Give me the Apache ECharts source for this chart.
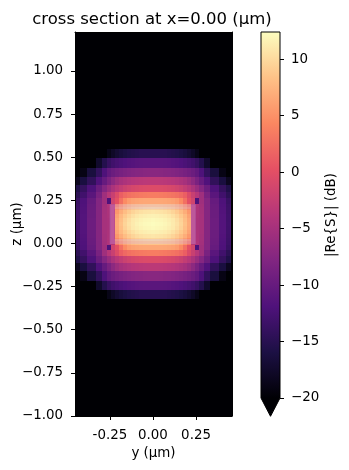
<!DOCTYPE html>
<html>
<head>
<meta charset="utf-8">
<style>
  html, body { margin: 0; padding: 0; background: #fff; }
  #chart { width: 349px; height: 470px; }
</style>
<script src="https://cdn.jsdelivr.net/npm/echarts@6/dist/echarts.min.js"></script>
</head>
<body>
<div id="chart"></div>
<script>
// cell edges of the non uniform grid, um
var yEdges = [ -0.455, -0.426, -0.382, -0.333, -0.295, -0.265, -0.242, -0.221, -0.198, -0.174, -0.151, -0.128, -0.105, -0.081, -0.058, -0.035, -0.012,
               0.012, 0.035, 0.058, 0.081, 0.105, 0.128, 0.151, 0.174, 0.198, 0.221, 0.242, 0.265, 0.295, 0.333, 0.382, 0.426, 0.455 ] ;
var zEdges = [ 0.545, 0.493, 0.439, 0.384, 0.338, 0.2975, 0.2615, 0.23, 0.2125, 0.193, 0.170, 0.146, 0.123,
               0.100, 0.077, 0.054, 0.031, 0.012, -0.006, -0.037, -0.074, -0.114, -0.160, -0.215, -0.269, -0.321 ] ;

// dB, one row per z cell (top to bottom), one column per y cell
var fieldDb = [
  [-25,-25,-25,-25,-25,-18.8,-17.8,-17,-16.4,-16,-15.6,-15.4,-15.2,-15,-15,-15,-15,-15,-15,-15,-15.2,-15.4,-15.6,-16,-16.4,-17,-17.8,-18.8,-25,-25,-25,-25,-25],
  [-25,-25,-25,-17.5,-15.3,-13.9,-13.1,-12.6,-12.2,-11.9,-11.6,-11.4,-11.2,-11.1,-11,-11,-11,-11,-11,-11.1,-11.2,-11.4,-11.6,-11.9,-12.2,-12.6,-13.1,-13.9,-15.3,-17.5,-25,-25,-25],
  [-25,-19,-16.3,-14.2,-12,-10.4,-9.6,-9.1,-8.7,-8.3,-8,-7.8,-7.6,-7.5,-7.4,-7.3,-7.3,-7.3,-7.4,-7.5,-7.6,-7.8,-8,-8.3,-8.7,-9.1,-9.6,-10.4,-12,-14.2,-16.3,-19,-25],
  [-18.3,-16.2,-14.3,-11.8,-10,-8.4,-7,-5.8,-5,-4.5,-4.1,-3.8,-3.6,-3.5,-3.4,-3.3,-3.3,-3.3,-3.4,-3.5,-3.6,-3.8,-4.1,-4.5,-5,-5.8,-7,-8.4,-10,-11.8,-14.3,-16.2,-18.3],
  [-15.6,-14,-12,-9.6,-7.6,-6,-4.6,-3.5,-2.7,-2,-1.5,-1.1,-0.9,-0.7,-0.6,-0.5,-0.5,-0.5,-0.6,-0.7,-0.9,-1.1,-1.5,-2,-2.7,-3.5,-4.6,-6,-7.6,-9.6,-12,-14,-15.6],
  [-14.7,-13,-11,-8.5,-5.5,-3.6,-2.2,-0.5,1.3,2.1,2.6,2.9,3.1,3.3,3.4,3.5,3.5,3.5,3.4,3.3,3.1,2.9,2.6,2.1,1.3,-0.5,-2.2,-3.6,-5.5,-8.5,-11,-13,-14.7],
  [-13.7,-12,-10,-7.7,-5.5,-12,-1.5,0.2,2.6,4.6,5.7,6.1,6.3,6.4,6.5,6.5,6.5,6.5,6.5,6.4,6.3,6.1,5.7,4.6,2.6,0.2,-1.5,-12,-5.5,-7.7,-10,-12,-13.7],
  [-13.4,-11.8,-9.8,-7.7,-5.2,-4.3,-3.5,3.2,5,6.3,7.2,7.8,8.1,8.3,8.4,8.5,8.5,8.5,8.4,8.3,8.1,7.8,7.2,6.3,5,3.2,-3.5,-4.3,-5.2,-7.7,-9.8,-11.8,-13.4],
  [-13.3,-11.7,-9.7,-7.6,-5.1,-4.4,-3.5,4.5,5.9,7.1,8,8.7,9.1,9.4,9.6,9.7,9.8,9.7,9.6,9.4,9.1,8.7,8,7.1,5.9,4.5,-3.5,-4.4,-5.1,-7.6,-9.7,-11.7,-13.3],
  [-13.2,-11.6,-9.6,-7.5,-5.1,-4.5,-3.5,5.5,6.9,8,8.9,9.6,10.1,10.4,10.6,10.7,10.8,10.7,10.6,10.4,10.1,9.6,8.9,8,6.9,5.5,-3.5,-4.5,-5.1,-7.5,-9.6,-11.6,-13.2],
  [-13.1,-11.5,-9.6,-7.5,-5,-4.6,-3.5,6.2,7.7,8.8,9.7,10.4,10.9,11.2,11.4,11.5,11.6,11.5,11.4,11.2,10.9,10.4,9.7,8.8,7.7,6.2,-3.5,-4.6,-5,-7.5,-9.6,-11.5,-13.1],
  [-13.1,-11.5,-9.5,-7.5,-5,-4.7,-3.5,6.6,8.1,9.4,10.3,11,11.4,11.7,11.9,12,12.1,12,11.9,11.7,11.4,11,10.3,9.4,8.1,6.6,-3.5,-4.7,-5,-7.5,-9.5,-11.5,-13.1],
  [-13,-11.5,-9.5,-7.5,-5,-4.7,-3.5,6.8,8.3,9.6,10.5,11.1,11.6,11.9,12.1,12.2,12.3,12.2,12.1,11.9,11.6,11.1,10.5,9.6,8.3,6.8,-3.5,-4.7,-5,-7.5,-9.5,-11.5,-13],
  [-13.1,-11.5,-9.5,-7.5,-5,-4.7,-3.5,6.6,8.1,9.4,10.3,11,11.4,11.7,11.9,12,12.1,12,11.9,11.7,11.4,11,10.3,9.4,8.1,6.6,-3.5,-4.7,-5,-7.5,-9.5,-11.5,-13.1],
  [-13.1,-11.5,-9.6,-7.5,-5,-4.6,-3.5,6.2,7.7,8.8,9.7,10.4,10.9,11.2,11.4,11.5,11.6,11.5,11.4,11.2,10.9,10.4,9.7,8.8,7.7,6.2,-3.5,-4.6,-5,-7.5,-9.6,-11.5,-13.1],
  [-13.2,-11.6,-9.6,-7.5,-5.1,-4.5,-3.5,5.5,6.9,8,8.9,9.6,10.1,10.4,10.6,10.7,10.8,10.7,10.6,10.4,10.1,9.6,8.9,8,6.9,5.5,-3.5,-4.5,-5.1,-7.5,-9.6,-11.6,-13.2],
  [-13.3,-11.7,-9.7,-7.6,-5.1,-4.4,-3.5,4.5,5.9,7.1,8,8.7,9.1,9.4,9.6,9.7,9.8,9.7,9.6,9.4,9.1,8.7,8,7.1,5.9,4.5,-3.5,-4.4,-5.1,-7.6,-9.7,-11.7,-13.3],
  [-13.4,-11.8,-9.8,-7.7,-5.2,-4.3,-3.5,3.2,5,6.3,7.2,7.8,8.1,8.3,8.4,8.5,8.5,8.5,8.4,8.3,8.1,7.8,7.2,6.3,5,3.2,-3.5,-4.3,-5.2,-7.7,-9.8,-11.8,-13.4],
  [-13.7,-12,-10,-7.7,-5.5,-12,-1.5,0.2,2.6,4.6,5.7,6.1,6.3,6.4,6.5,6.5,6.5,6.5,6.5,6.4,6.3,6.1,5.7,4.6,2.6,0.2,-1.5,-12,-5.5,-7.7,-10,-12,-13.7],
  [-14.7,-13,-11,-8.5,-5.5,-3.6,-2.2,-0.5,1.3,2.1,2.6,2.9,3.1,3.3,3.4,3.5,3.5,3.5,3.4,3.3,3.1,2.9,2.6,2.1,1.3,-0.5,-2.2,-3.6,-5.5,-8.5,-11,-13,-14.7],
  [-15.6,-14,-12,-9.6,-7.6,-6,-4.6,-3.5,-2.7,-2,-1.5,-1.1,-0.9,-0.7,-0.6,-0.5,-0.5,-0.5,-0.6,-0.7,-0.9,-1.1,-1.5,-2,-2.7,-3.5,-4.6,-6,-7.6,-9.6,-12,-14,-15.6],
  [-18.3,-16.2,-14.3,-11.8,-10,-8.4,-7,-5.8,-5,-4.5,-4.1,-3.8,-3.6,-3.5,-3.4,-3.3,-3.3,-3.3,-3.4,-3.5,-3.6,-3.8,-4.1,-4.5,-5,-5.8,-7,-8.4,-10,-11.8,-14.3,-16.2,-18.3],
  [-25,-19,-16.3,-14.2,-12,-10.4,-9.6,-9.1,-8.7,-8.3,-8,-7.8,-7.6,-7.5,-7.4,-7.3,-7.3,-7.3,-7.4,-7.5,-7.6,-7.8,-8,-8.3,-8.7,-9.1,-9.6,-10.4,-12,-14.2,-16.3,-19,-25],
  [-25,-25,-25,-17.5,-15.3,-13.9,-13.1,-12.6,-12.2,-11.9,-11.6,-11.4,-11.2,-11.1,-11,-11,-11,-11,-11,-11.1,-11.2,-11.4,-11.6,-11.9,-12.2,-12.6,-13.1,-13.9,-15.3,-17.5,-25,-25,-25],
  [-25,-25,-25,-25,-25,-18.8,-17.8,-17,-16.4,-16,-15.6,-15.4,-15.2,-15,-15,-15,-15,-15,-15,-15,-15.2,-15.4,-15.6,-16,-16.4,-17,-17.8,-18.8,-25,-25,-25,-25,-25]
] ;

// waveguide outline: y0, y1, z0, z1
var structure = [ -0.237, 0.234, 0.012, 0.213 ] ;

var yTicks = [ -0.25, 0, 0.25 ] ;
var zTicks = [ -1, -0.75, -0.5, -0.25, 0, 0.25, 0.5, 0.75, 1 ] ;
var barTicks = [ -20, -15, -10, -5, 0, 5, 10 ] ;

var magma = [ '#000004', '#1c1044', '#4f127b', '#812581', '#b5367a', '#e55064', '#fb8761', '#fec287', '#fcfdbf' ] ;
var vMin = -20 ;
var vMax = 12.4 ;
var font = '"DejaVu Sans"' ;

function toColor( v )
{
   var t = Math.max( 0, Math.min( 1, ( v - vMin ) / ( vMax - vMin ) ) ) ;
   return echarts.color.lerp( t, magma ) ;
}

// 把单元格展开成 custom 系列的数据
var cells = [] ;
for( var r = 0; r < fieldDb.length; ++r )
{
   for( var c = 0; c < fieldDb[r].length; ++c )
   {
      cells.push( [ yEdges[c], yEdges[c + 1], zEdges[r + 1], zEdges[r], fieldDb[r][c] ] ) ;
   }
}

function renderCell( params, api )
{
   var p0 = api.coord( [ api.value( 0 ), api.value( 3 ) ] ) ;
   var p1 = api.coord( [ api.value( 1 ), api.value( 2 ) ] ) ;
   var x0 = Math.round( p0[0] ), y0 = Math.round( p0[1] ) ;
   var x1 = Math.round( p1[0] ), y1 = Math.round( p1[1] ) ;
   return {
      type: 'rect',
      shape: { x: x0, y: y0, width: x1 - x0, height: y1 - y0 },
      style: { fill: toColor( api.value( 4 ) ) }
   } ;
}

function renderStructure( params, api )
{
   var p0 = api.coord( [ api.value( 0 ), api.value( 3 ) ] ) ;
   var p1 = api.coord( [ api.value( 1 ), api.value( 2 ) ] ) ;
   return {
      type: 'rect',
      shape: { x: p0[0], y: p0[1], width: p1[0] - p0[0], height: p1[1] - p0[1] },
      style: { fill: 'none', stroke: 'rgba(205,185,255,0.25)', lineWidth: 5 }
   } ;
}

function renderBar( params, api )
{
   var top = api.coord( [ 0, vMax ] ) ;
   var bottom = api.coord( [ 1, vMin ] ) ;
   var tip = ( bottom[1] - top[1] ) * 0.05 ;
   var stops = magma.map( function( color, i ){
      return { offset: 1 - i / ( magma.length - 1 ), color: color } ;
   } ) ;
   return {
      type: 'group',
      children: [
         {
            type: 'rect',
            shape: { x: top[0], y: top[1], width: bottom[0] - top[0], height: bottom[1] - top[1] },
            style: { fill: new echarts.graphic.LinearGradient( 0, 0, 0, 1, stops ) }
         },
         {
            type: 'polygon',
            shape: { points: [ [ top[0], top[1] ], [ bottom[0], top[1] ], [ bottom[0], bottom[1] ],
                               [ ( top[0] + bottom[0] ) / 2, bottom[1] + tip ], [ top[0], bottom[1] ] ] },
            style: { fill: 'none', stroke: '#000', lineWidth: 1 }
         },
         {
            type: 'polygon',
            shape: { points: [ [ top[0], bottom[1] ], [ bottom[0], bottom[1] ], [ ( top[0] + bottom[0] ) / 2, bottom[1] + tip ] ] },
            style: { fill: '#000004' }
         }
      ]
   } ;
}

function fixed2( v ){ return v.toFixed( 2 ) ; }
function minus2( v ){ return v.toFixed( 2 ).replace( '-', '\u2212' ) ; }
function minus0( v ){ return String( v ).replace( '-', '\u2212' ) ; }

var label = { fontFamily: font, fontSize: 13.4, color: '#000' } ;
var axisName = { fontFamily: font, fontSize: 13.4, color: '#000' } ;
var line = { onZero: false, lineStyle: { color: '#000', width: 1 } } ;

var chart = echarts.init( document.getElementById( 'chart' ), null, { renderer: 'canvas' } ) ;
chart.setOption( {
   animation: false,
   title: {
      text: 'cross section at x=0.00 (\u03bcm)',
      left: 147,
      top: 6,
      textAlign: 'center',
      textStyle: { fontFamily: font, fontSize: 16.5, fontWeight: 'normal', color: '#000' }
   },
   grid: [
      { left: 75, top: 32, width: 157, height: 384, show: true, backgroundColor: '#000004', borderWidth: 0 },
      { left: 261, top: 32, width: 19, height: 366 }
   ],
   xAxis: [
      {
         type: 'value', gridIndex: 0, min: -0.453, max: 0.459, position: 'bottom', z: 5,
         name: 'y (\u03bcm)', nameLocation: 'middle', nameGap: 30, nameTextStyle: axisName,
         splitLine: { show: false },
         axisLine: line,
         axisTick: { length: 4, lineStyle: line.lineStyle, customValues: yTicks },
         axisLabel: Object.assign( { margin: 13, customValues: yTicks, formatter: fixed2 }, label )
      },
      {
         type: 'value', gridIndex: 0, min: -0.453, max: 0.459, position: 'top', z: 5,
         splitLine: { show: false }, axisLine: line, axisTick: { show: false }, axisLabel: { show: false }
      },
      {
         type: 'value', gridIndex: 1, min: 0, max: 1, show: false
      }
   ],
   yAxis: [
      {
         type: 'value', gridIndex: 0, min: -1, max: 1.226, position: 'left', z: 5,
         name: 'z (\u03bcm)', nameLocation: 'middle', nameGap: 51, nameTextStyle: axisName,
         nameMoveOverlap: false,
         splitLine: { show: false },
         axisLine: line,
         axisTick: { length: 4, lineStyle: line.lineStyle, customValues: zTicks },
         axisLabel: Object.assign( { margin: 12, customValues: zTicks, formatter: minus2 }, label )
      },
      {
         type: 'value', gridIndex: 0, min: -1, max: 1.226, position: 'right', z: 5,
         splitLine: { show: false }, axisLine: line, axisTick: { show: false }, axisLabel: { show: false }
      },
      {
         type: 'value', gridIndex: 1, min: vMin, max: vMax, position: 'right', z: 5,
         name: '|Re{S}| (dB)', nameLocation: 'middle', nameGap: 45, nameRotate: 90, nameTextStyle: axisName,
         splitLine: { show: false },
         axisLine: { show: false, onZero: false },
         axisTick: { length: 4, lineStyle: line.lineStyle, customValues: barTicks },
         axisLabel: Object.assign( { margin: 11, customValues: barTicks, formatter: minus0 }, label )
      }
   ],
   series: [
      {
         type: 'custom', xAxisIndex: 0, yAxisIndex: 0, silent: true, renderItem: renderCell,
         encode: { x: [ 0, 1 ], y: [ 2, 3 ] }, data: cells
      },
      {
         type: 'custom', xAxisIndex: 0, yAxisIndex: 0, silent: true, z: 3, renderItem: renderStructure,
         encode: { x: [ 0, 1 ], y: [ 2, 3 ] }, data: [ structure ]
      },
      {
         type: 'custom', xAxisIndex: 2, yAxisIndex: 2, silent: true, clip: false, renderItem: renderBar,
         data: [ [ 0, vMin ] ]
      }
   ]
} ) ;
</script>
</body>
</html>
